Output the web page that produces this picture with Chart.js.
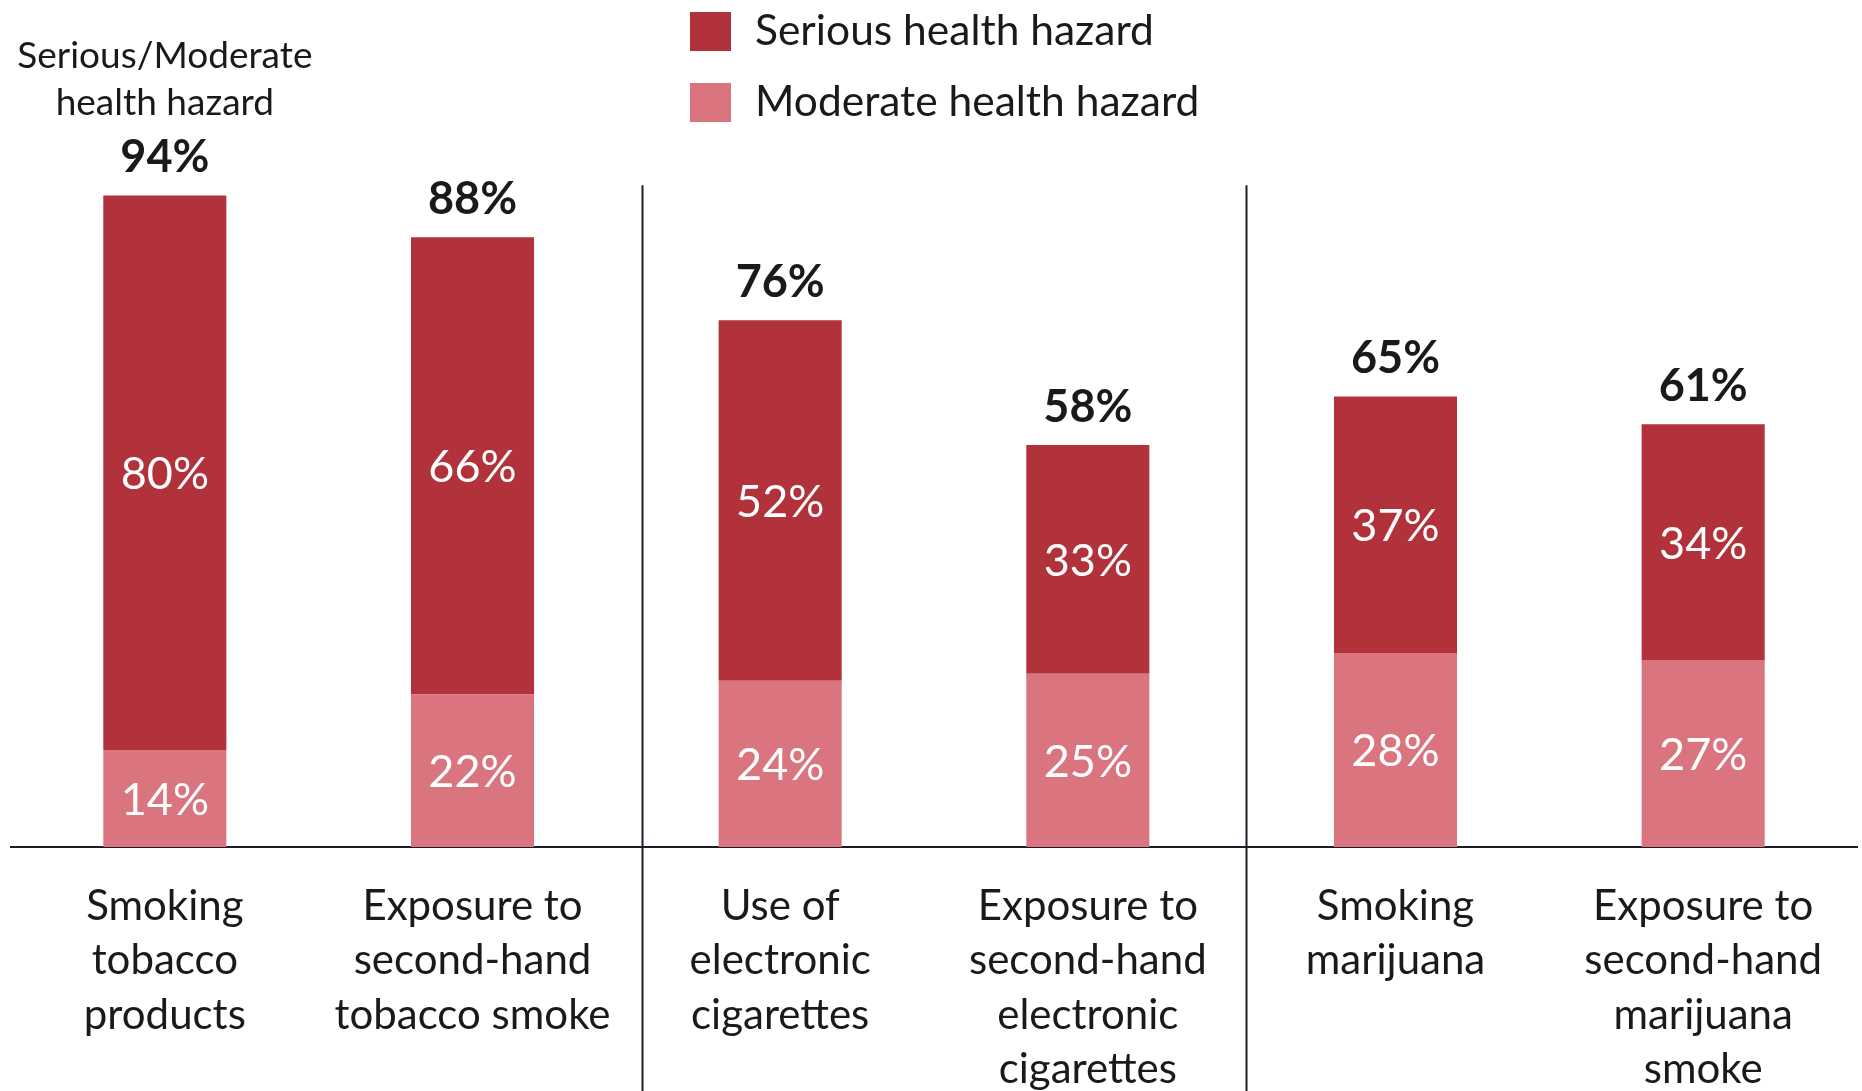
<!DOCTYPE html>
<html>
<head>
<meta charset="utf-8">
<title>Perceived health hazard</title>
<script src="https://cdn.jsdelivr.net/npm/chart.js@4.4.1/dist/chart.umd.min.js"></script>
<style>
  html, body { margin: 0; padding: 0; background: #fff; }
  #wrap { position: relative; width: 1862px; height: 1091px; }
</style>
</head>
<body>
<div id="wrap"><canvas id="viz"></canvas></div>
<script>
// data
const categories = [
  ['Smoking', 'tobacco', 'products'],
  ['Exposure to', 'second-hand', 'tobacco smoke'],
  ['Use of', 'electronic', 'cigarettes'],
  ['Exposure to', 'second-hand', 'electronic', 'cigarettes'],
  ['Smoking', 'marijuana'],
  ['Exposure to', 'second-hand', 'marijuana', 'smoke']
];
const moderate = [14, 22, 24, 25, 28, 27];
const serious = [80, 66, 52, 33, 37, 34];
const totals = [94, 88, 76, 58, 65, 61];
const seriesNames = ['Moderate health hazard', 'Serious health hazard'];
const noteLines = ['Serious/Moderate', 'health hazard'];
// group separators, in category units
const dividers = [1.55, 3.515];

const DARK = '#b1323b';
const LIGHT = '#da7580';
const FONT = 'Lato, "Open Sans", sans-serif';

Chart.defaults.font.family = FONT;
Chart.defaults.color = '#1a1a1a';

// labels inside segments + totals on top
const labelsPlugin = {
  id: 'labels',
  afterDatasetsDraw(chart) {
    const ctx = chart.ctx;
    ctx.save();
    ctx.textAlign = 'center';
    ctx.textBaseline = 'middle';
    chart.data.datasets.forEach((ds, di) => {
      const meta = chart.getDatasetMeta(di);
      meta.data.forEach((bar, i) => {
        ctx.fillStyle = '#ffffff';
        ctx.font = '45px ' + FONT;
        ctx.fillText(ds.data[i] + '%', bar.x, (bar.y + bar.base) / 2 + 2);
      });
    });
    // totals
    const top = chart.getDatasetMeta(1);
    top.data.forEach((bar, i) => {
      ctx.fillStyle = '#1a1a1a';
      ctx.font = 'bold 45px ' + FONT;
      ctx.fillText(totals[i] + '%', bar.x, bar.y - 38);
    });
    // note above the first bar
    const first = top.data[0];
    ctx.font = '37px ' + FONT;
    ctx.fillText(noteLines[0], first.x, 56);
    ctx.fillText(noteLines[1], first.x, 103);
    ctx.restore();
  }
};

const dividerPlugin = {
  id: 'dividers',
  afterDraw(chart) {
    const ctx = chart.ctx;
    const xs = chart.scales.x;
    const ys = chart.scales.y;
    ctx.save();
    ctx.strokeStyle = '#1c1c28';
    ctx.lineWidth = 2;
    dividers.forEach(v => {
      const x = Math.round(xs.getPixelForValue(v)) + 0.5;
      ctx.beginPath();
      ctx.moveTo(x, ys.getPixelForValue(95.5));
      ctx.lineTo(x, chart.height);
      ctx.stroke();
    });
    ctx.restore();
  }
};

// stacked legend, serious on top
const legendPlugin = {
  id: 'sideLegend',
  afterDraw(chart) {
    const ctx = chart.ctx;
    const items = [chart.data.datasets[1], chart.data.datasets[0]];
    ctx.save();
    ctx.textAlign = 'left';
    ctx.textBaseline = 'middle';
    ctx.font = '42.5px ' + FONT;
    items.forEach((ds, k) => {
      const y = 12 + k * 71;
      ctx.fillStyle = ds.backgroundColor;
      ctx.fillRect(690, y, 41, 39);
      ctx.fillStyle = '#1a1a1a';
      ctx.fillText(ds.label, 755, y + 19);
    });
    ctx.restore();
  }
};

const ctx = document.getElementById('viz');
const chart = new Chart(ctx, {
  type: 'bar',
  data: {
    labels: categories,
    datasets: [{
      label: seriesNames[0],
      data: moderate,
      backgroundColor: LIGHT,
      barPercentage: 0.4,
      categoryPercentage: 1
    }, {
      label: seriesNames[1],
      data: serious,
      backgroundColor: DARK,
      barPercentage: 0.4,
      categoryPercentage: 1
    }]
  },
  options: {
    responsive: true,
    maintainAspectRatio: false,
    animation: false,
    layout: { padding: { top: 154, left: 11, right: 5, bottom: 0 } },
    plugins: {
      legend: { display: false },
      tooltip: { enabled: false }
    },
    scales: {
      x: {
        stacked: true,
        grid: { display: false, drawTicks: false },
        border: { display: true, color: '#1c1c28', width: 2 },
        ticks: {
          color: '#1a1a1a',
          font: { size: 42, lineHeight: '54.5px' },
          padding: 32,
          maxRotation: 0,
          autoSkip: false
        },
        afterFit(scale) { scale.height = 244; }
      },
      y: {
        stacked: true,
        display: false,
        min: 0,
        max: 100
      }
    }
  },
  plugins: [labelsPlugin, dividerPlugin, legendPlugin]
});
</script>
</body>
</html>
